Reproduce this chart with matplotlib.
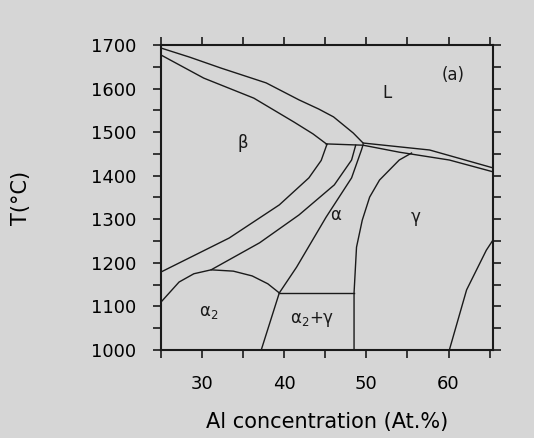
import matplotlib
matplotlib.use("Agg")
import matplotlib.pyplot as plt
from matplotlib.ticker import MultipleLocator

# phase boundaries (Al at.%, temperature °C)
liq_x = [25.0, 28.5, 32.3, 37.8, 41.8, 44.2, 46.0, 48.4, 49.6]
liq_t = [1693, 1672, 1647, 1613, 1574, 1553, 1535, 1498, 1475]

sol_x = [25.0, 30.2, 36.3, 41.2, 43.5, 45.2]
sol_t = [1677, 1624, 1578, 1523, 1496, 1472]

peri_x = [45.1, 49.6, 54.0, 60.1, 65.4]
peri_t = [1473, 1470, 1454, 1436, 1409]

liq_g_x = [49.6, 57.7, 65.4]
liq_g_t = [1475, 1459, 1418]

b_ba_x = [25.0, 33.3, 39.4, 43.0, 44.5, 45.2]
b_ba_t = [1179, 1257, 1333, 1395, 1435, 1472]

a_ba_x = [31.1, 37.0, 41.8, 46.1, 48.2, 48.7]
a_ba_t = [1184, 1246, 1310, 1379, 1436, 1470]

a_ag_x = [39.4, 41.5, 45.1, 48.2, 49.4, 49.6]
a_ag_t = [1131, 1190, 1305, 1395, 1459, 1471]

g_ag_x = [48.5, 48.5, 48.8, 49.5, 50.4, 51.6, 54.0, 55.5]
g_ag_t = [1000, 1131, 1236, 1298, 1351, 1390, 1436, 1452]

eut_x = [39.4, 48.5]
eut_t = [1131, 1131]

dome_x = [25.0, 27.2, 29.0, 31.1, 33.8, 36.1, 38.0, 39.4]
dome_t = [1110, 1156, 1175, 1184, 1181, 1170, 1152, 1131]

a2_x = [39.4, 37.2]
a2_t = [1131, 1000]

g_right_x = [60.1, 62.2, 64.6, 65.4]
g_right_t = [1000, 1138, 1229, 1252]

labels = ["L", "β", "α", "γ", r"α$_2$", r"α$_2$+γ", "(a)"]
label_x = [52.5, 35.0, 46.3, 56.0, 30.8, 43.4, 60.6]
label_t = [1590, 1475, 1310, 1305, 1088, 1070, 1630]

bg = "#d6d6d6"
fig = plt.figure(figsize=(5.34, 4.38), dpi=100, facecolor=bg)
ax = fig.add_axes([0.3015, 0.2009, 0.6215, 0.6964], facecolor=bg)

for xs, ts in [(liq_x, liq_t), (sol_x, sol_t), (peri_x, peri_t),
               (liq_g_x, liq_g_t), (b_ba_x, b_ba_t), (a_ba_x, a_ba_t),
               (a_ag_x, a_ag_t), (g_ag_x, g_ag_t), (eut_x, eut_t),
               (dome_x, dome_t), (a2_x, a2_t), (g_right_x, g_right_t)]:
    ax.plot(xs, ts, color="#1a1a1a", lw=1.0)

for s, x, t in zip(labels, label_x, label_t):
    ax.text(x, t, s, fontsize=12, ha="center", va="center", color="#1a1a1a")

ax.set_xlim(25, 65.4)
ax.set_ylim(1000, 1700)
ax.xaxis.set_major_locator(MultipleLocator(10))
ax.xaxis.set_minor_locator(MultipleLocator(5))
ax.yaxis.set_major_locator(MultipleLocator(100))
ax.yaxis.set_minor_locator(MultipleLocator(50))
ax.tick_params(which="both", direction="out", top=True, right=True,
               labeltop=False, labelright=False, width=1.2, color="#1a1a1a")
ax.tick_params(which="major", length=6, labelsize=13)
ax.tick_params(which="minor", length=6)
ax.tick_params(axis="x", pad=12)
ax.tick_params(axis="y", pad=12)
for sp in ax.spines.values():
    sp.set_linewidth(1.5)
    sp.set_color("#1a1a1a")

ax.set_xlabel("Al concentration (At.%)", fontsize=15, labelpad=14)
ax.set_ylabel("T(°C)", fontsize=15, labelpad=43)

plt.savefig("out.png", dpi=100, facecolor=bg)
